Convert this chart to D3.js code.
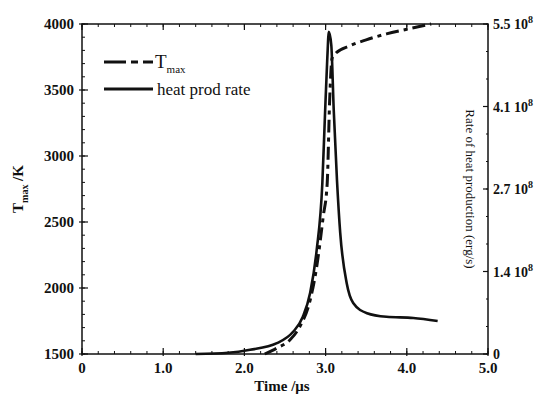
<!DOCTYPE html>
<html>
<head>
<meta charset="utf-8">
<script src="https://cdn.jsdelivr.net/npm/d3@7"></script>
<style>
  body { margin: 0; background: #fff; }
  text { font-family: "Liberation Serif", "Times New Roman", serif; fill: #111; }
</style>
</head>
<body>
<div id="chart"></div>
<script>
// heat production rate (units of 1e8 erg/s)
var rateTime  = [1.40, 1.80, 2.07, 2.40, 2.60, 2.72, 2.81, 2.89, 2.96, 2.99, 3.02, 3.04, 3.07, 3.10, 3.14, 3.18, 3.26, 3.34, 3.51, 3.75, 4.08, 4.38];
var rateValue = [0.00, 0.02, 0.07, 0.18, 0.37, 0.62, 1.02, 1.73, 2.85, 3.90, 4.90, 5.37, 5.15, 4.07, 2.90, 2.02, 1.18, 0.85, 0.68, 0.62, 0.60, 0.55];

// T max (K)
var tmaxTime  = [2.25, 2.40, 2.56, 2.68, 2.81, 2.89, 2.97, 3.02, 3.05, 3.08, 3.12, 3.30, 3.50, 3.75, 4.00, 4.30];
var tmaxValue = [1500, 1545, 1606, 1705, 1909, 2159, 2538, 2795, 3424, 3740, 3775, 3835, 3880, 3925, 3960, 4000];

var xTicks = [0, 1, 2, 3, 4, 5];
var xTickLabels = ["0", "1.0", "2.0", "3.0", "4.0", "5.0"];
var yTicks = [1500, 2000, 2500, 3000, 3500, 4000];
var rTicks = [0, 1.375, 2.75, 4.125, 5.5];
var rTickLabels = ["0", "1.4 10", "2.7 10", "4.1 10", "5.5 10"];

var width = 543, height = 403;
var margin = {left: 82, right: 55, top: 24, bottom: 49};

var svg = d3.select("#chart").append("svg")
    .attr("width", width)
    .attr("height", height);

var x = d3.scaleLinear().domain([0, 5]).range([margin.left, width - margin.right]);
var y = d3.scaleLinear().domain([1500, 4000]).range([height - margin.bottom, margin.top]);
var yr = d3.scaleLinear().domain([0, 5.5]).range([height - margin.bottom, margin.top]);

var x0 = x.range()[0], x1 = x.range()[1];
var yb = y.range()[0], yt = y.range()[1];

// frame
svg.append("rect")
    .attr("x", x0).attr("y", yt)
    .attr("width", x1 - x0).attr("height", yb - yt)
    .attr("fill", "none").attr("stroke", "#111").attr("stroke-width", 1.5);

// minor ticks
var g = svg.append("g").attr("stroke", "#111").attr("stroke-width", 1);
d3.range(0, 5.01, 0.2).forEach(function(t) {
    g.append("line").attr("x1", x(t)).attr("x2", x(t)).attr("y1", yb).attr("y2", yb - 3);
    g.append("line").attr("x1", x(t)).attr("x2", x(t)).attr("y1", yt).attr("y2", yt + 3);
});
d3.range(1500, 4001, 100).forEach(function(v) {
    g.append("line").attr("x1", x0).attr("x2", x0 + 3).attr("y1", y(v)).attr("y2", y(v));
});
d3.range(0, 5.51, 5.5 / 12).forEach(function(v) {
    g.append("line").attr("x1", x1).attr("x2", x1 - 2).attr("y1", yr(v)).attr("y2", yr(v));
});

// bottom axis
svg.selectAll(".xt").data(xTicks).enter().append("line")
    .attr("x1", d => x(d)).attr("x2", d => x(d))
    .attr("y1", yb + 2).attr("y2", yb - 6)
    .attr("stroke", "#111").attr("stroke-width", 1.2);
svg.selectAll(".xt2").data(xTicks).enter().append("line")
    .attr("x1", d => x(d)).attr("x2", d => x(d))
    .attr("y1", yt).attr("y2", yt + 6)
    .attr("stroke", "#111").attr("stroke-width", 1.2);
svg.selectAll(".xl").data(xTicks).enter().append("text")
    .attr("x", d => x(d)).attr("y", yb + 19)
    .attr("text-anchor", "middle")
    .style("font-size", "15px").style("font-weight", "bold")
    .text((d, i) => xTickLabels[i]);

// left axis
svg.selectAll(".yt").data(yTicks).enter().append("line")
    .attr("x1", x0 - 3).attr("x2", x0 + 6)
    .attr("y1", d => y(d)).attr("y2", d => y(d))
    .attr("stroke", "#111").attr("stroke-width", 1.2);
svg.selectAll(".yl").data(yTicks).enter().append("text")
    .attr("x", x0 - 8).attr("y", d => y(d) + 5)
    .attr("text-anchor", "end")
    .style("font-size", "15px").style("font-weight", "bold")
    .text(d => d);

// right axis
svg.selectAll(".rt").data(rTicks).enter().append("line")
    .attr("x1", x1 - 5).attr("x2", x1)
    .attr("y1", d => yr(d)).attr("y2", d => yr(d))
    .attr("stroke", "#111").attr("stroke-width", 1.2);
var rl = svg.selectAll(".rl").data(rTicks).enter().append("text")
    .attr("x", x1 + 5).attr("y", d => yr(d) + 5)
    .style("font-size", "14px").style("font-weight", "bold");
rl.append("tspan").text((d, i) => rTickLabels[i]);
rl.filter(d => d > 0).append("tspan")
    .attr("dy", -6).style("font-size", "10px").text("8");

// axis titles
svg.append("text")
    .attr("x", (x0 + x1) / 2 - 3).attr("y", height - 12)
    .attr("text-anchor", "middle")
    .style("font-size", "15px").style("font-weight", "bold")
    .text("Time /\u03bcs");

var yTitle = svg.append("text")
    .attr("transform", "translate(23," + (height - margin.bottom + margin.top) / 2 + ") rotate(-90)")
    .attr("text-anchor", "middle")
    .style("font-size", "15px").style("font-weight", "bold");
yTitle.append("tspan").text("T");
yTitle.append("tspan").attr("dy", 5).style("font-size", "10px").text("max");
yTitle.append("tspan").attr("dy", -5).text(" /K");

svg.append("text")
    .attr("transform", "translate(466," + ((yb + yt) / 2) + ") rotate(90)")
    .attr("text-anchor", "middle")
    .style("font-size", "13px")
    .text("Rate of heat production (erg/s)");

// curves
var rateLine = d3.line()
    .x((d, i) => x(rateTime[i]))
    .y(d => yr(d))
    .curve(d3.curveMonotoneX);
var tmaxLine = d3.line()
    .x((d, i) => x(tmaxTime[i]))
    .y(d => y(d))
    .curve(d3.curveMonotoneX);

svg.append("path")
    .attr("d", tmaxLine(tmaxValue))
    .attr("fill", "none").attr("stroke", "#111")
    .attr("stroke-width", 3)
    .attr("stroke-dasharray", "13,5,4,5");

svg.append("path")
    .attr("d", rateLine(rateValue))
    .attr("fill", "none").attr("stroke", "#111")
    .attr("stroke-width", 2.6)
    .attr("stroke-linejoin", "round");

// legend
svg.append("line")
    .attr("x1", 104).attr("x2", 153).attr("y1", 62).attr("y2", 62)
    .attr("stroke", "#111").attr("stroke-width", 3)
    .attr("stroke-dasharray", "22,5,7,5,10");
var lt = svg.append("text").attr("x", 155).attr("y", 68)
    .style("font-size", "19px");
lt.append("tspan").text("T");
lt.append("tspan").attr("dy", 5).style("font-size", "11px").text("max");

svg.append("line")
    .attr("x1", 104).attr("x2", 153).attr("y1", 89).attr("y2", 89)
    .attr("stroke", "#111").attr("stroke-width", 3);
svg.append("text").attr("x", 157).attr("y", 95)
    .style("font-size", "17px")
    .text("heat prod rate");
</script>
</body>
</html>
